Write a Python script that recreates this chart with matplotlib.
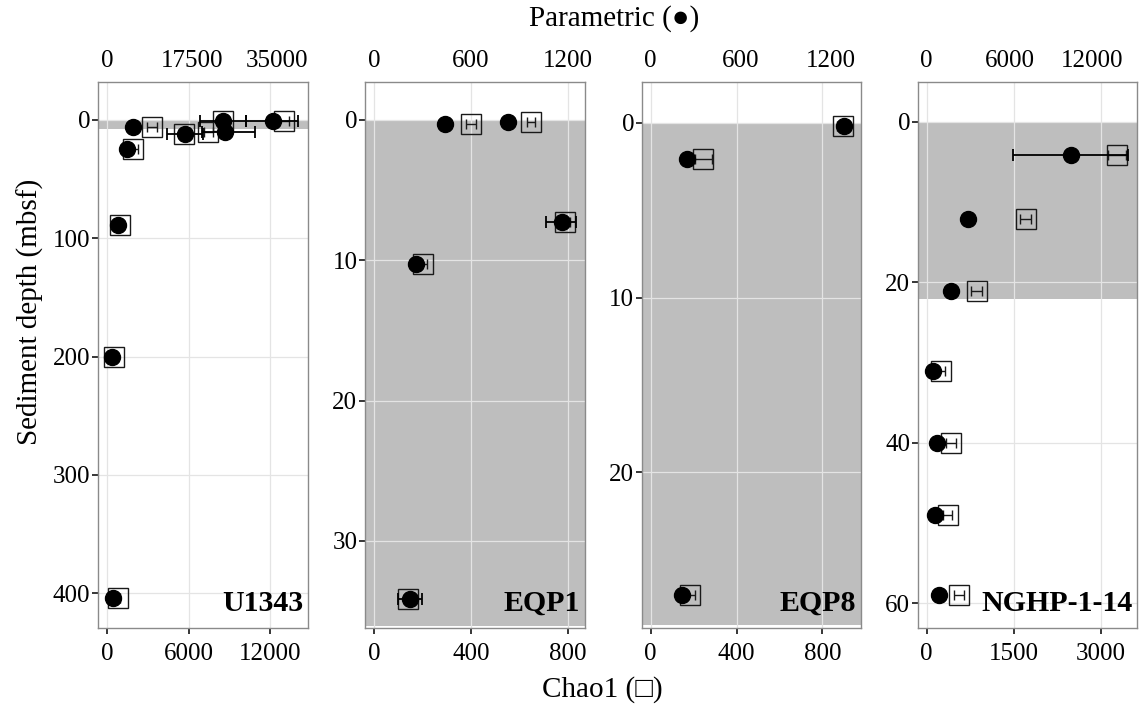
import matplotlib
matplotlib.use("Agg")
import matplotlib.pyplot as plt
import numpy as np

plt.rcParams['font.family'] = ['Liberation Serif', 'DejaVu Serif']

# ---------------- data ----------------
sites = ["U1343", "EQP1", "EQP8", "NGHP-1-14"]

# U1343
u1343_depth = [1, 1, 6, 10.5, 12, 24.5, 89, 200, 404]
u1343_chao = [8540, 13000, 3280, 7440, 5680, 1930, 950, 510, 830]
u1343_chao_lo = [8200, 12650, 2910, 7100, 5330, 1600, 800, 400, 700]
u1343_chao_hi = [8900, 13350, 3650, 7800, 6030, 2260, 1100, 620, 960]
u1343_param = [23800, 34100, 5300, 24300, 16100, 4200, 2300, 970, 1300]
u1343_param_lo = [19100, 28600, 5300, 19500, 12400, 4200, 2300, 970, 1300]
u1343_param_hi = [28600, 39300, 5300, 30400, 19800, 4200, 2300, 970, 1300]

# EQP1
eqp1_depth = [0.3, 0.15, 7.3, 10.3, 34.1]
eqp1_chao = [400, 648, 789, 200, 141]
eqp1_chao_lo = [380, 630, 770, 182, 126]
eqp1_chao_hi = [420, 666, 808, 218, 156]
eqp1_param = [439, 831, 1163, 259, 222]
eqp1_param_lo = [439, 831, 1063, 259, 147]
eqp1_param_hi = [439, 831, 1251, 259, 294]

# EQP8
eqp8_depth = [0.15, 2.07, 27.0]
eqp8_chao = [898, 245, 183]
eqp8_chao_lo = [870, 205, 160]
eqp8_chao_hi = [926, 285, 206]
eqp8_param = [1289, 240, 207]
eqp8_param_lo = [1289, 240, 207]
eqp8_param_hi = [1289, 240, 207]

# NGHP-1-14
nghp_depth = [4.1, 12.1, 21.1, 31.1, 40.0, 49.0, 59.0]
nghp_chao = [3276, 1707, 862, 241, 414, 362, 562]
nghp_chao_lo = [3120, 1610, 770, 160, 330, 280, 470]
nghp_chao_hi = [3430, 1800, 950, 320, 500, 440, 650]
nghp_param = [10427, 2969, 1760, 478, 724, 601, 891]
nghp_param_lo = [6227, 2969, 1760, 478, 724, 601, 891]
nghp_param_hi = [14554, 2969, 1760, 478, 724, 601, 891]

# axis ticks
chao_ticks = [[0, 6000, 12000], [0, 400, 800], [0, 400, 800], [0, 1500, 3000]]
param_ticks = [[0, 17500, 35000], [0, 600, 1200], [0, 600, 1200], [0, 6000, 12000]]
depth_ticks = [[0, 100, 200, 300, 400], [0, 10, 20, 30], [0, 10, 20], [0, 20, 40, 60]]
# shaded depth zones (top, bottom)
zones = [(0, 8), (0, 36.05), (0, 28.7), (0, 22.1)]

data = [
    (u1343_depth, u1343_chao, u1343_chao_lo, u1343_chao_hi, u1343_param, u1343_param_lo, u1343_param_hi),
    (eqp1_depth, eqp1_chao, eqp1_chao_lo, eqp1_chao_hi, eqp1_param, eqp1_param_lo, eqp1_param_hi),
    (eqp8_depth, eqp8_chao, eqp8_chao_lo, eqp8_chao_hi, eqp8_param, eqp8_param_lo, eqp8_param_hi),
    (nghp_depth, nghp_chao, nghp_chao_lo, nghp_chao_hi, nghp_param, nghp_param_lo, nghp_param_hi),
]

# ---------------- layout ----------------
W, H = 1141, 711
fig = plt.figure(figsize=(W / 100, H / 100), dpi=100)
boxes = [(98, 308), (365, 585), (641.7, 861), (917.7, 1137)]
top_px, bot_px = 82, 628
# parametric-to-chao scale factors (secondary axis)
scale = [2.8, 1.5, 1.43, 4.2]
xlims = [(-660, 14760), (-38.5, 871), (-42, 980), (-155, 3626)]
ylims = [(429.4, -32.1), (36.2, -2.7), (28.9, -2.34), (63.1, -4.94)]

tick_fs = 18
for i, site in enumerate(sites):
    l, r = boxes[i]
    ax = fig.add_axes([l / W, 1 - bot_px / H, (r - l) / W, (bot_px - top_px) / H])
    depth, chao, clo, chi, par, plo, phi = [np.array(a, dtype=float) for a in data[i]]
    k = scale[i]

    ax.set_xlim(*xlims[i])
    ax.set_ylim(*ylims[i])
    ax.set_axisbelow(True)
    ax.axhspan(zones[i][0], zones[i][1], color='#bebebe', lw=0, zorder=0.1)
    ax.grid(True, color='#e4e4e4', lw=0.9)

    # Chao1 squares with CI
    ax.errorbar(chao, depth, xerr=[chao - clo, chi - chao], fmt='none',
                ecolor='#1a1a1a', elinewidth=1.0, capsize=3.4, capthick=1.0, zorder=3)
    ax.plot(chao, depth, 's', ms=14, mfc='none', mec='#1a1a1a', mew=1.0, zorder=3)

    # Parametric circles with CI (plotted on scaled axis)
    px = par / k
    mask = (phi - plo) > 0
    if mask.any():
        ax.errorbar(px[mask], depth[mask],
                    xerr=[(par - plo)[mask] / k, (phi - par)[mask] / k], fmt='none',
                    ecolor='black', elinewidth=1.3, capsize=4.0, capthick=1.3, zorder=4)
    ax.plot(px, depth, 'o', ms=11.5, color='black', zorder=5)

    ax.set_xticks(chao_ticks[i])
    ax.set_xticklabels([str(t) for t in chao_ticks[i]])
    ax.set_yticks(depth_ticks[i])
    ax.set_yticklabels([str(t) for t in depth_ticks[i]])
    ax.tick_params(axis='both', labelsize=tick_fs, colors='black', length=4, width=1.1)
    ax.tick_params(axis='x', pad=7)
    ax.tick_params(axis='y', pad=1.5)
    for s in ax.spines.values():
        s.set_color('#8a8a8a')
        s.set_linewidth(1.0)

    sec = ax.secondary_xaxis('top', functions=(lambda x, k=k: x * k, lambda x, k=k: x / k))
    sec.set_xticks(param_ticks[i])
    sec.set_xticklabels([str(t) for t in param_ticks[i]])
    sec.tick_params(length=0, labelsize=tick_fs, pad=7)
    sec.spines['top'].set_visible(False)

    ax.text(0.978, 0.02, site, transform=ax.transAxes, ha='right', va='bottom',
            fontsize=21.5, fontweight='bold')

fig.text(30 / W, 1 - 312 / H, "Sediment depth (mbsf)", rotation=90,
         ha='center', va='center', fontsize=21)
fig.text(614 / W, 1 - 19 / H, "Parametric (\u25cf)", ha='center', va='center', fontsize=21)
fig.text(602 / W, 1 - 690 / H, "Chao1 (\u25a1)", ha='center', va='center', fontsize=21)

fig.savefig("out.png", dpi=100)
